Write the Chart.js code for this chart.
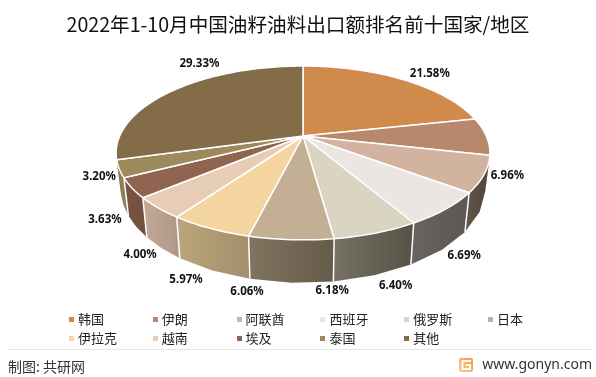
<!DOCTYPE html>
<html>
<head>
<meta charset="utf-8">
<script src="https://cdn.jsdelivr.net/npm/chart.js@4/dist/chart.umd.js"></script>
<style>
	body { margin: 0; background: #fff; }
	#wrap { position: relative; width: 596px; height: 377px; overflow: hidden; font-family: "Noto Sans CJK SC", sans-serif; color: #222; }
	#legend span { position: absolute; font-size: 13px; line-height: 16px; white-space: nowrap; }
	#legend i { position: absolute; width: 5px; height: 5px; }
	#rule { position: absolute; left: 8px; top: 349px; width: 584px; height: 1px; background: #e6e6e6; }
	#source { position: absolute; left: 8px; top: 356px; font-size: 14px; line-height: 20px; color: #333; }
	#site { position: absolute; right: 4px; top: 354px; font: 14px/20px "Noto Sans", sans-serif; color: #333; }
	#logo { position: absolute; left: 459px; top: 358px; }
</style>
</head>
<body>
<div id="wrap">
	<canvas id="chart-pie" width="596" height="377"></canvas>
	<div id="legend"></div>
	<div id="rule"></div>
	<div id="source">制图: 共研网</div>
	<svg id="logo" width="14" height="14" viewBox="0 0 14 14">
		<defs><linearGradient id="lg" x1="1" y1="0" x2="0" y2="1"><stop offset="0" stop-color="#fb8f45"/><stop offset="1" stop-color="#fbd08a"/></linearGradient></defs>
		<rect width="14" height="14" rx="2" fill="url(#lg)"/>
		<path d="M12 3H3.5V11H11V7H6.5" fill="none" stroke="#fff" stroke-width="2"/>
	</svg>
	<div id="site">www.gonyn.com</div>
</div>
<script>
const TITLE = "2022年1-10月中国油籽油料出口额排名前十国家/地区";
const CATEGORIES = ["韩国", "伊朗", "阿联酋", "西班牙", "俄罗斯", "日本", "伊拉克", "越南", "埃及", "泰国", "其他"];
const VALUES = [21.58, 6.96, 6.69, 6.40, 6.18, 6.06, 5.97, 4.00, 3.63, 3.20, 29.33];

const COLORS = ["#d08b4c", "#b7886b", "#d1b3a0", "#ebe6e2", "#d9d5c2", "#c3af93", "#f4d5a0", "#e8cdb6", "#8f6450", "#9d8a5b", "#846c48"];
// side wall shading, left to right
const WALLS = [
	["#8a5c34", "#8a5c34"], ["#5f4a3c", "#5f4a3c"], ["#5f5246", "#4f453c"], ["#68635e", "#5c5752"],
	["#767164", "#565246"], ["#7f7560", "#665a49"], ["#baa67a", "#a48e6c"], ["#c4a894", "#b0998a"],
	["#7a5542", "#74503e"], ["#8e7f55", "#8e7f55"], ["#6a563a", "#6a563a"],
];
// where each % label sits relative to the rim at the slice's middle
const LABEL_NUDGE = [[27, -6], [21, 39], [-20, 82], [-50, 77], [-44, 58], [-44, 52], [-24, 51], [-18, 47], [-27, 32], [-20, 8], [27, -27]];

// Tilted disc seen in perspective
const PIE = { cx: 303, hub: 136, radius: 183.3, slope: 57.1, persp: -0.195, depth: 34.6, shrink: 0.975 };

const project = (angle, low) => {
	const u = Math.cos(angle);
	const v = Math.sin(angle);
	const w = 1 + PIE.persp * v;
	const x = (PIE.radius * u) / w;
	const y = (PIE.slope * v + PIE.hub) / w;
	if (!low) return { x: PIE.cx + x, y, v };
	return { x: PIE.cx + x * PIE.shrink, y: y + PIE.depth / w, v };
};

const rimPath = (ctx, from, to, low) => {
	const steps = Math.max(2, Math.ceil((to - from) / 0.02));
	for (let s = 0; s <= steps; s++) {
		const p = project(from + ((to - from) * s) / steps, low);
		ctx.lineTo(p.x, p.y);
	}
};

const drawWalls = (ctx, arcs) => {
	arcs.forEach((arc, i) => {
		// only the part that faces the viewer
		const from = Math.max(arc.startAngle, Math.asin(0.2));
		const to = Math.min(arc.endAngle, Math.PI - Math.asin(0.2));
		if (to <= from) return;
		const a = project(from), b = project(to);
		const grad = ctx.createLinearGradient(Math.min(a.x, b.x), 0, Math.max(a.x, b.x), 0);
		grad.addColorStop(0, WALLS[i][0]);
		grad.addColorStop(1, WALLS[i][1]);
		ctx.beginPath();
		rimPath(ctx, from, to, false);
		rimPath(ctx, to, from, true);
		ctx.closePath();
		ctx.fillStyle = grad;
		ctx.fill();
	});
	ctx.strokeStyle = "#fff";
	ctx.lineWidth = 1.5;
	arcs.forEach((arc) => {
		const top = project(arc.endAngle);
		if (top.v < 0.3) return;
		const low = project(arc.endAngle, true);
		ctx.beginPath();
		ctx.moveTo(top.x, top.y);
		ctx.lineTo(low.x, low.y);
		ctx.stroke();
	});
};

const drawTop = (ctx, arcs) => {
	arcs.forEach((arc, i) => {
		ctx.beginPath();
		ctx.moveTo(PIE.cx, PIE.hub);
		rimPath(ctx, arc.startAngle, arc.endAngle, false);
		ctx.closePath();
		ctx.fillStyle = COLORS[i];
		ctx.fill();
		ctx.strokeStyle = "#fff";
		ctx.lineWidth = 1.5;
		ctx.lineJoin = "round";
		ctx.stroke();
	});
};

const drawLabels = (ctx, arcs) => {
	ctx.font = 'bold 11.5px "Noto Sans", sans-serif';
	ctx.fillStyle = "#111";
	ctx.textAlign = "center";
	ctx.textBaseline = "middle";
	arcs.forEach((arc, i) => {
		const p = project((arc.startAngle + arc.endAngle) / 2);
		ctx.fillText(VALUES[i].toFixed(2) + "%", p.x + LABEL_NUDGE[i][0], p.y + LABEL_NUDGE[i][1]);
	});
};

// Draws the library's own arcs on the tilted disc
const tiltedPie = {
	id: "tiltedPie",
	beforeDatasetDraw(chart, args) {
		const ctx = chart.ctx;
		const arcs = args.meta.data;
		ctx.save();
		drawWalls(ctx, arcs);
		drawTop(ctx, arcs);
		drawLabels(ctx, arcs);
		ctx.restore();
		return false;
	},
};

const CONFIG = {
	type: "pie",
	data: {
		labels: CATEGORIES,
		datasets: [{ data: VALUES, backgroundColor: COLORS }],
	},
	options: {
		responsive: false,
		animation: false,
		devicePixelRatio: 1,
		plugins: {
			legend: { display: false },
			tooltip: { enabled: false },
			title: {
				display: true,
				text: TITLE,
				color: "#111",
				font: { family: '"Noto Sans CJK SC", sans-serif', size: 19.6, weight: "normal" },
				padding: { top: 13, bottom: 10 },
			},
		},
	},
	plugins: [tiltedPie],
};

new Chart(document.getElementById("chart-pie"), CONFIG);

// Legend, six fixed columns
const legend = document.getElementById("legend");
CATEGORIES.forEach((name, i) => {
	const col = i % 6;
	const row = Math.floor(i / 6);
	const x = 69 + col * 83.8;
	const y = 319 + row * 19;
	const box = document.createElement("i");
	box.style.cssText = `left:${x}px;top:${y - 2.5}px;background:${COLORS[i]}`;
	const text = document.createElement("span");
	text.style.cssText = `left:${x + 9}px;top:${y - 8}px`;
	text.textContent = name;
	legend.append(box, text);
});
</script>
</body>
</html>
